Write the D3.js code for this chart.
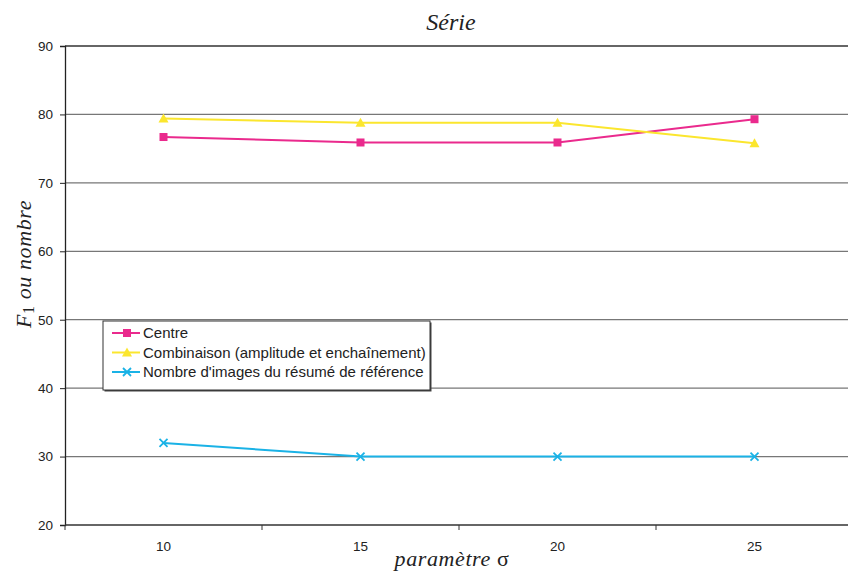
<!DOCTYPE html>
<html>
<head>
<meta charset="utf-8">
<script src="https://cdn.jsdelivr.net/npm/d3@7"></script>
<style>
  body { margin: 0; background: #fff; }
  svg text { font-family: "Liberation Sans", Arial, sans-serif; }
  .serif { font-family: "Liberation Serif", "Times New Roman", serif; }
</style>
</head>
<body>
<div id="chart"></div>
<script>
var categories = ["10", "15", "20", "25"];
var centre = [76.7, 75.9, 75.9, 79.3];
var combinaison = [79.4, 78.8, 78.8, 75.8];
var nombreImages = [32, 30, 30, 30];
var yTicks = [20, 30, 40, 50, 60, 70, 80, 90];

var series = [
    {name: "Centre", values: centre, color: "#ea2a8d", marker: "square"},
    {name: "Combinaison (amplitude et enchaînement)", values: combinaison, color: "#fbe62e", marker: "triangle"},
    {name: "Nombre d'images du résumé de référence", values: nombreImages, color: "#1ab2e6", marker: "cross"}
];

var width = 848, height = 577;
var margin = {top: 46, right: -5, bottom: 52, left: 65};

var svg = d3.select("#chart").append("svg")
    .attr("width", width)
    .attr("height", height);

var xScale = d3.scaleBand()
    .domain(categories)
    .range([margin.left, width - margin.right]);

var yScale = d3.scaleLinear()
    .domain([20, 90])
    .range([height - margin.bottom, margin.top]);

// gridlines
svg.append("g")
    .selectAll("line")
    .data(yTicks.filter(t => t > 20))
    .enter().append("line")
    .attr("x1", margin.left)
    .attr("x2", width)
    .attr("y1", d => yScale(d))
    .attr("y2", d => yScale(d))
    .attr("stroke", d => d == 90 ? "#333" : "#777")
    .attr("stroke-width", 1.3);

// y axis
var yAxis = d3.axisLeft(yScale).tickValues(yTicks).tickSize(5).tickPadding(7);
var gy = svg.append("g")
    .attr("transform", "translate(" + margin.left + ",0)")
    .call(yAxis);
gy.select(".domain").attr("stroke", "#222").attr("stroke-width", 1.3);
gy.selectAll(".tick line").attr("stroke", "#222");
gy.selectAll("text").style("font-size", "13.5px").attr("fill", "#222");

// x axis (category axis: ticks between categories)
var xBase = yScale(20);
svg.append("line")
    .attr("x1", margin.left).attr("x2", width)
    .attr("y1", xBase).attr("y2", xBase)
    .attr("stroke", "#333").attr("stroke-width", 1.3);

svg.append("g")
    .selectAll("line")
    .data(categories)
    .enter().append("line")
    .attr("x1", d => xScale(d))
    .attr("x2", d => xScale(d))
    .attr("y1", xBase)
    .attr("y2", xBase + 5)
    .attr("stroke", "#333");

svg.append("g")
    .selectAll("text")
    .data(categories)
    .enter().append("text")
    .attr("x", d => xScale(d) + xScale.bandwidth() / 2)
    .attr("y", xBase + 26)
    .attr("text-anchor", "middle")
    .style("font-size", "13.5px")
    .attr("fill", "#222")
    .text(d => d);

var cx = d => xScale(d) + xScale.bandwidth() / 2;

var lineGen = d3.line()
    .x((d, i) => cx(categories[i]))
    .y(d => yScale(d));

function drawMarker(g, type, x, y, color) {
    if (type == "square") {
        g.append("rect").attr("x", x - 4).attr("y", y - 4)
            .attr("width", 8).attr("height", 8).attr("fill", color);
    } else if (type == "triangle") {
        g.append("path")
            .attr("d", "M" + x + "," + (y - 5) + "L" + (x + 5) + "," + (y + 4) + "L" + (x - 5) + "," + (y + 4) + "Z")
            .attr("fill", color);
    } else {
        g.append("path")
            .attr("d", "M" + (x - 4) + "," + (y - 4) + "L" + (x + 4) + "," + (y + 4) + "M" + (x + 4) + "," + (y - 4) + "L" + (x - 4) + "," + (y + 4))
            .attr("stroke", color).attr("stroke-width", 1.8).attr("fill", "none");
    }
}

series.forEach(function(s) {
    svg.append("path")
        .attr("d", lineGen(s.values))
        .attr("stroke", s.color)
        .attr("stroke-width", 2)
        .attr("fill", "none");
    var g = svg.append("g");
    s.values.forEach(function(v, i) {
        drawMarker(g, s.marker, cx(categories[i]), yScale(v), s.color);
    });
});

// title
svg.append("text")
    .attr("class", "serif")
    .attr("x", 451)
    .attr("y", 30)
    .attr("text-anchor", "middle")
    .style("font-size", "24px")
    .style("font-style", "italic")
    .attr("fill", "#222")
    .text("Série");

// x title
var xt = svg.append("text")
    .attr("class", "serif")
    .attr("x", 452)
    .attr("y", 566)
    .attr("text-anchor", "middle")
    .style("font-size", "22px")
    .style("letter-spacing", "0.6px")
    .attr("fill", "#222");
xt.append("tspan").style("font-style", "italic").text("paramètre ");
xt.append("tspan").text("σ");

// y title
var yt = svg.append("text")
    .attr("class", "serif")
    .attr("transform", "translate(31,264) rotate(-90)")
    .attr("text-anchor", "middle")
    .style("font-size", "22px")
    .style("letter-spacing", "0.6px")
    .attr("fill", "#222");
yt.append("tspan").style("font-style", "italic").text("F");
yt.append("tspan").attr("dy", 3).style("font-size", "16px").text("1");
yt.append("tspan").attr("dy", -3).style("font-style", "italic").text(" ou nombre");

// legend
var legend = svg.append("g").attr("transform", "translate(103,321)");
legend.append("rect")
    .attr("x", 1.5).attr("y", 1.5)
    .attr("width", 327).attr("height", 69)
    .attr("fill", "#444");
legend.append("rect")
    .attr("width", 327).attr("height", 69)
    .attr("fill", "#fff").attr("stroke", "#333").attr("stroke-width", 1);

series.forEach(function(s, i) {
    var y = 12 + i * 19.5;
    legend.append("line")
        .attr("x1", 9).attr("x2", 37)
        .attr("y1", y).attr("y2", y)
        .attr("stroke", s.color).attr("stroke-width", 2);
    drawMarker(legend, s.marker, 24, y, s.color);
    legend.append("text")
        .attr("x", 40)
        .attr("y", y + 5)
        .style("font-size", "15px")
        .attr("fill", "#222")
        .text(s.name);
});
</script>
</body>
</html>
